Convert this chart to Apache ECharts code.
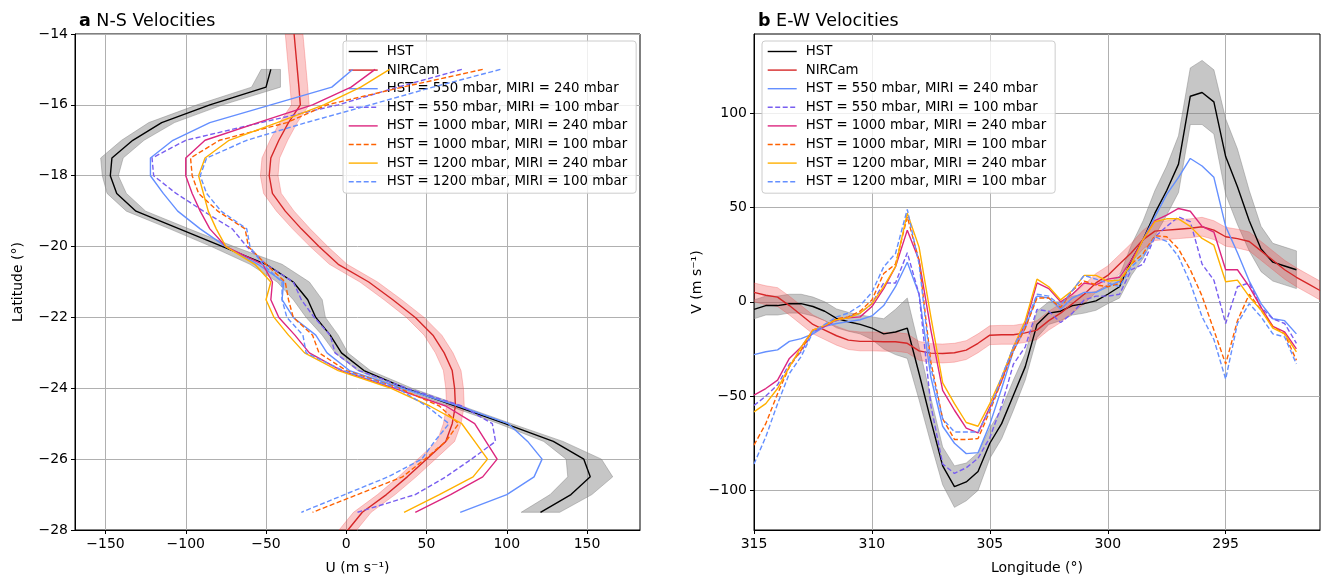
<!DOCTYPE html>
<html>
<head>
<meta charset="utf-8">
<script src="https://cdn.jsdelivr.net/npm/echarts@6/dist/echarts.min.js"></script>
<style>
html,body{margin:0;padding:0;background:#fff;}
#chart{width:1322px;height:580px;}
</style>
</head>
<body>
<div id="chart"></div>
<script>
// ---------- Panel a: N-S velocities (U vs latitude) ----------
const latA = [-15,-15.5,-16,-16.5,-17,-17.5,-18,-18.5,-19,-19.5,-20,-20.5,-21,-21.5,-22,-22.5,-23,-23.5,-24,-24.5,-25,-25.5,-26,-26.5,-27,-27.5];
const hstU = [-47,-50,-85,-115,-133,-146,-147,-143,-131,-104,-77,-50,-33,-24,-19,-10,-3,11,37,68,99,129,148,152,140,121];
const hstUErr = [6,9,8,8,7,7,5,6,6,6,7,10,10,9,6,5,4,4,4,4,4,6,11,14,13,12];
const nirLatA = [-14,-14.5,-15,-15.5,-16,-16.5,-17,-17.5,-18,-18.5,-19,-19.5,-20,-20.5,-21,-21.5,-22,-22.5,-23,-23.5,-24,-24.5,-25,-25.5,-26,-26.5,-27,-27.5,-28];
const nirU = [-32.5,-31.5,-30.5,-29.5,-28.6,-36,-42,-47,-48,-46,-38,-28,-17,-5,14,29,43,54,61,66,67.5,68,66,62,50,38,25,10,1];
const nirUErr = 5.5;
const u550_240 = [4,-9,-47,-85,-108,-122,-122,-114,-105,-91,-75,-55,-39,-40,-33,-19,-12,2,35,70,101,113,122,117,100,71];
const u550_100 = [72,32,-5,-53,-100,-121,-120,-106,-89,-71,-62,-50,-33,-28,-20,-10,-7,8,38,72,91,93,78,62,43,7];
const u1000_240 = [18,3,-21,-55,-88,-100,-100,-96,-91,-85,-75,-52,-46,-47,-42,-32,-23,-3,30,62,80,87,94,85,65,43];
const u1000_100 = [85,35,-12,-37,-79,-97,-96,-92,-80,-63,-61,-50,-38,-36,-33,-21,-17,0,33,58,70,62,49,35,7,-21];
const u1200_240 = [27,9,-14,-43,-73,-88,-92,-89,-86,-81,-75,-57,-47,-50,-45,-36,-26,-5,28,52,72,80,88,79,58,36];
const u1200_100 = [96,54,15,-25,-62,-87,-91,-87,-78,-62,-60,-52,-40,-40,-37,-27,-25,-2,32,50,64,55,47,26,-1,-28];
const uTicks = [-150,-100,-50,0,50,100,150];
const latTicks = [-28,-26,-24,-22,-20,-18,-16,-14];

// ---------- Panel b: E-W velocities (V vs longitude) ----------
const lonB = [315,314.5,314,313.5,313,312.5,312,311.5,311,310.5,310,309.5,309,308.5,308,307.5,307,306.5,306,305.5,305,304.5,304,303.5,303,302.5,302,301.5,301,300.5,300,299.5,299,298.5,298,297.5,297,296.5,296,295.5,295,294.5,294,293.5,293,292.5,292];
const hstV = [-4,-2,-2,-1,-1,-2.5,-5,-8.8,-10.6,-12,-14,-17,-16,-14,-38,-63,-87,-98,-95.5,-90,-75,-64.6,-49.5,-34.5,-12,-6,-5,-2,-1,0.5,4,8,22,33,47,59,73,109,111,106,77,61,43,28,21,19,17];
const hstVErr = [5,5,5,5,5,5,5,5,5,5,6,8,12,16,14,12,10,11,10,10,8,8,8,7,7,6,5,5,5,5,5,6,8,10,12,13,15,15,17,17,20,20,16,12,10,10,10];
const nirLonB = [315,314.5,314,313.5,313,312.5,312,311.5,311,310.5,310,309.5,309,308.5,308,307.5,307,306.5,306,305.5,305,304.5,304,303.5,303,302.5,302,301.5,301,300.5,300,299.5,299,298.5,298,297.5,297,296.5,296,295.5,295,294.5,294,293.5,293,292.5,292,291.5,291];
const nirV = [5,3.5,2.5,-2,-7,-12,-15,-18,-20.3,-21,-21,-21.2,-21.2,-22,-26,-27.2,-27.4,-27,-25.6,-22,-17.7,-17.5,-17.5,-16.5,-15,-10,-6,-1,4,10,14,20,26,33,37.5,38,38.5,39,39.8,38,34.5,33.5,32,27,22,17,13,9.5,6];
const nirVErr = 5;
const v550_240 = [-28,-26.5,-25.5,-21,-19.5,-17,-13,-11.5,-10.5,-9.5,-7.5,-2,8,21,4,-40,-66,-75,-80.5,-80,-65,-46,-26,-14,3,2,-4,2,5,5,8,11,20,33,45,57,66,76,72,66,40,26,11,-1,-9,-10,-17];
const v550_100 = [-55,-50,-44,-33,-26.5,-16,-13,-10,-8,-6,-1,10,10,26,4,-55,-86,-91,-88,-83,-72,-55,-33,-24,-4,-5,-11,-6,1,3,3,4,17,20,34.5,40,45,42.5,20,11.5,-11.5,8,10,-3,-9,-11.5,-22];
const v1000_240 = [-49.5,-46,-41.5,-30,-24,-15,-13,-9.5,-8.5,-8,-2.5,7,18.6,38,22,-15,-47,-57.5,-67,-69.5,-56,-42,-24,-12,10,7,0,4,10,9,12,13,22,33,43,46,49.5,48,40,37,17,17,8,-3,-13,-16,-25];
const v1000_100 = [-76,-64.6,-48.7,-34.5,-25.6,-15,-12.5,-9,-8,-5,1,15,20,45,22,-32,-62,-73,-73,-72.5,-58,-42,-26,-14,2,2,-3,6,11,9,8,9.7,20,25.6,35,34.5,28,17,3,-15,-33,-10,4,-4.4,-13,-17,-31];
const v1200_240 = [-58.4,-54,-46,-34.5,-24,-15,-12.5,-9.5,-8.5,-6,-1,8,18.6,47,29,-8,-43,-54,-64,-66,-54,-40,-24,-10,12,8,1,6,14,14,11,11.5,20,33,42.5,44,44,40,33.6,30,10.6,11.5,2.7,-4.4,-14,-17,-26.5];
const v1200_100 = [-86,-71.6,-54,-38,-29,-16,-12,-8,-6,-2,5,18.6,25.6,49,20,-35,-62,-69,-69,-69,-57,-40,-24,-12,4,3,-2,6,14,12,10,8,18.6,24,34.5,32,24,10,-8,-20,-41,-11.5,-1,-8,-17,-18.6,-33];
const lonTicks = [315,310,305,300,295];
const vTicks = [-100,-50,0,50,100];

const names = ['HST','NIRCam','HST = 550 mbar, MIRI = 240 mbar','HST = 550 mbar, MIRI = 100 mbar','HST = 1000 mbar, MIRI = 240 mbar','HST = 1000 mbar, MIRI = 100 mbar','HST = 1200 mbar, MIRI = 240 mbar','HST = 1200 mbar, MIRI = 100 mbar'];
const colors = ['#000000','#d62728','#648FFF','#785EF0','#DC267F','#FE6100','#FFB000','#648FFF'];
const dashed = [false,false,false,true,false,true,false,true];

const FONT = 'DejaVu Sans';
const minus = v => String(v).replace('-', '\u2212');

function bandSeries(xi, yi, pts, fill, z) {
  return {
    type: 'custom', xAxisIndex: xi, yAxisIndex: yi, silent: true, z: z, clip: true,
    data: [[pts[0][0][0], pts[0][0][1]]],
    renderItem: function (params, api) {
      const lo = pts.map(p => api.coord(p[0]));
      const hi = pts.map(p => api.coord(p[1])).reverse();
      return {
        type: 'polygon',
        shape: { points: lo.concat(hi) },
        style: { fill: fill, stroke: fill, lineWidth: 1 }
      };
    }
  };
}

function lineSeries(xi, yi, name, data, color, dash, z) {
  return {
    type: 'line', name: name, xAxisIndex: xi, yAxisIndex: yi, data: data,
    symbol: 'none', showSymbol: false, z: z, animation: false,
    lineStyle: { color: color, width: 1.4, type: dash ? [5, 2.5] : 'solid' },
    itemStyle: { color: color }
  };
}

const series = [];
series.push(bandSeries(0, 0, latA.map((l, i) => [[hstU[i] - hstUErr[i], l], [hstU[i] + hstUErr[i], l]]), 'rgba(128,128,128,0.45)', 1));
series.push(bandSeries(0, 0, nirLatA.map((l, i) => [[nirU[i] - nirUErr, l], [nirU[i] + nirUErr, l]]), 'rgba(240,60,60,0.28)', 2));
series.push(bandSeries(1, 1, lonB.map((l, i) => [[l, hstV[i] - hstVErr[i]], [l, hstV[i] + hstVErr[i]]]), 'rgba(128,128,128,0.45)', 1));
series.push(bandSeries(1, 1, nirLonB.map((l, i) => [[l, nirV[i] - nirVErr], [l, nirV[i] + nirVErr]]), 'rgba(240,60,60,0.28)', 2));

const aSets = [hstU.map((u, i) => [u, latA[i]]), nirU.map((u, i) => [u, nirLatA[i]]),
  u550_240, u550_100, u1000_240, u1000_100, u1200_240, u1200_100];
const bSets = [hstV.map((v, i) => [lonB[i], v]), nirV.map((v, i) => [nirLonB[i], v]),
  v550_240, v550_100, v1000_240, v1000_100, v1200_240, v1200_100];
names.forEach((n, k) => {
  const da = k < 2 ? aSets[k] : aSets[k].map((u, i) => [u, latA[i]]);
  const db = k < 2 ? bSets[k] : bSets[k].map((v, i) => [lonB[i], v]);
  series.push(lineSeries(0, 0, n, da, colors[k], dashed[k], 3 + k));
  series.push(lineSeries(1, 1, n, db, colors[k], dashed[k], 3 + k));
});

const axisCommon = {
  axisLine: { show: true, onZero: false, lineStyle: { color: '#000', width: 1 } },
  axisTick: { show: true, length: 4, lineStyle: { color: '#000', width: 1 } },
  splitLine: { show: true, lineStyle: { color: '#b0b0b0', width: 1 } },
  nameTextStyle: { fontFamily: FONT, fontSize: 14, color: '#000' }
};
function labelStyle(vals) {
  return { customValues: vals, formatter: minus, fontFamily: FONT, fontSize: 14, color: '#000', margin: 7 };
}

const legendCommon = {
  orient: 'vertical', data: names, itemWidth: 29, itemHeight: 14, itemGap: 5.6,
  padding: [4, 9, 5, 5], backgroundColor: 'rgba(255,255,255,0.8)',
  borderColor: '#cccccc', borderWidth: 1, borderRadius: 3,
  itemStyle: { opacity: 0, color: 'rgba(0,0,0,0)', borderWidth: 0 },
  lineStyle: { width: 1.4 },
  textStyle: { fontFamily: FONT, fontSize: 13.3, color: '#000', padding: [0, 0, 0, 4] },
  selectedMode: false
};

const option = {
  animation: false,
  backgroundColor: '#fff',
  title: [
    { text: '{b|a} N-S Velocities', left: 74, top: 7,
      textStyle: { fontFamily: FONT, fontSize: 17.5, fontWeight: 'normal', color: '#000',
        rich: { b: { fontFamily: FONT, fontSize: 17.5, fontWeight: 'bold', color: '#000' } } } },
    { text: '{b|b} E-W Velocities', left: 753, top: 7,
      textStyle: { fontFamily: FONT, fontSize: 17.5, fontWeight: 'normal', color: '#000',
        rich: { b: { fontFamily: FONT, fontSize: 17.5, fontWeight: 'bold', color: '#000' } } } }
  ],
  legend: [
    Object.assign({ left: 343, top: 41 }, legendCommon),
    Object.assign({ left: 762, top: 41 }, legendCommon)
  ],
  grid: [
    { left: 75, top: 34, width: 565, height: 496, show: true, borderColor: '#000', borderWidth: 1 },
    { left: 754, top: 34, width: 566, height: 496, show: true, borderColor: '#000', borderWidth: 1 }
  ],
  xAxis: [
    Object.assign({}, axisCommon, { type: 'value', gridIndex: 0, min: -169, max: 183, minInterval: 50, maxInterval: 50,
      axisTick: Object.assign({}, axisCommon.axisTick, { customValues: uTicks }),
      axisLabel: labelStyle(uTicks),
      name: 'U (m s\u207B\u00B9)', nameLocation: 'middle', nameGap: 31 }),
    Object.assign({}, axisCommon, { type: 'value', gridIndex: 1, min: 291, max: 315, inverse: true, minInterval: 5, maxInterval: 5,
      axisTick: Object.assign({}, axisCommon.axisTick, { customValues: lonTicks }),
      axisLabel: labelStyle(lonTicks),
      name: 'Longitude (\u00B0)', nameLocation: 'middle', nameGap: 31 })
  ],
  yAxis: [
    Object.assign({}, axisCommon, { type: 'value', gridIndex: 0, min: -28, max: -14, interval: 2,
      axisTick: Object.assign({}, axisCommon.axisTick, { customValues: latTicks }),
      axisLabel: labelStyle(latTicks),
      name: 'Latitude (\u00B0)', nameLocation: 'middle', nameGap: 50, nameRotate: 90 }),
    Object.assign({}, axisCommon, { type: 'value', gridIndex: 1, min: -121, max: 142, minInterval: 50, maxInterval: 50,
      axisTick: Object.assign({}, axisCommon.axisTick, { customValues: vTicks }),
      axisLabel: labelStyle(vTicks),
      name: 'V (m s\u207B\u00B9)', nameLocation: 'middle', nameGap: 30, nameRotate: 90 })
  ],
  series: series
};

const chart = echarts.init(document.getElementById('chart'), null, { renderer: 'canvas' });
chart.setOption(option);
</script>
</body>
</html>
